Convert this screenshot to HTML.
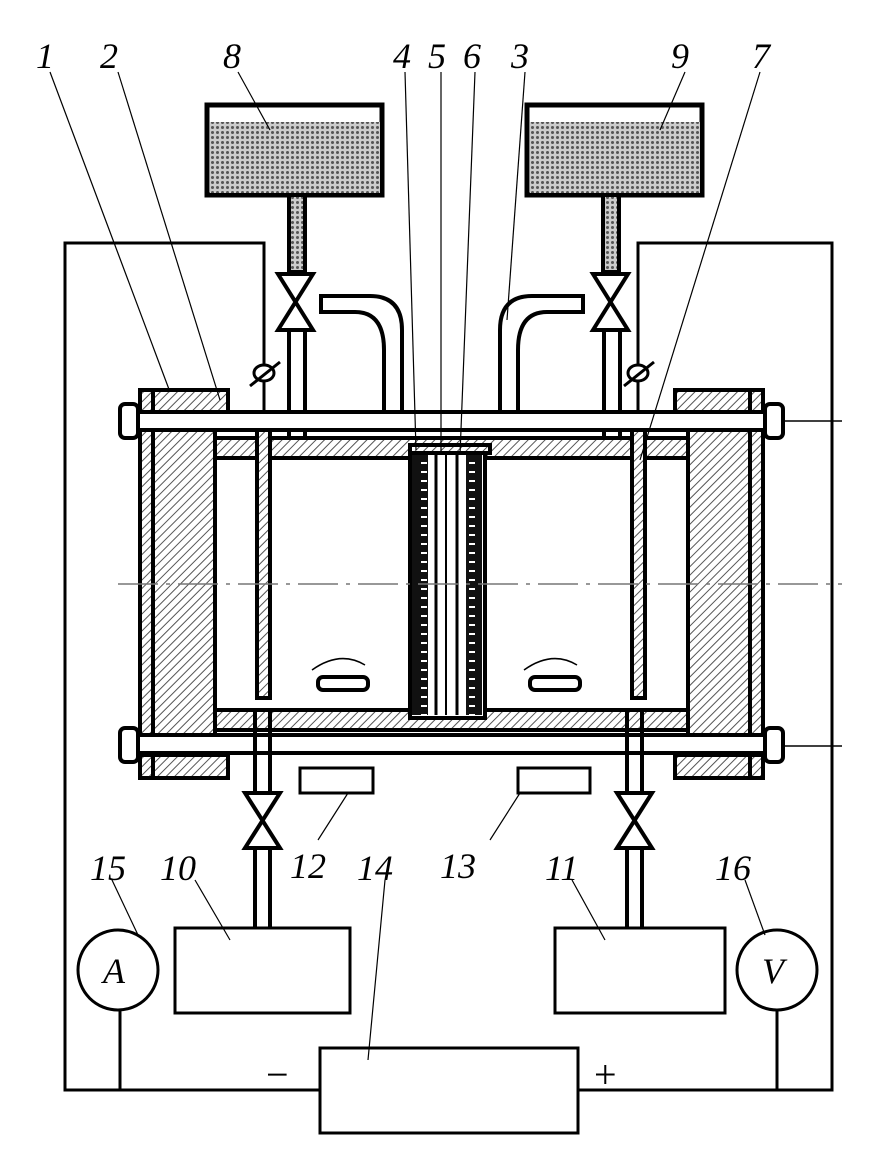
<!DOCTYPE html>
<html><head><style>body{margin:0;background:#fff}svg{display:block}text{font-family:"Liberation Serif",serif;font-style:italic;font-size:36px;fill:#000}</style></head>
<body>
<svg width="883" height="1149" viewBox="0 0 883 1149" xmlns="http://www.w3.org/2000/svg">
<defs>
<pattern id="h" width="6" height="6" patternUnits="userSpaceOnUse" patternTransform="rotate(45)"><rect width="6" height="6" fill="#fff"/><line x1="0" y1="0" x2="0" y2="6" stroke="#555" stroke-width="2"/></pattern>
<pattern id="d" width="5" height="5" patternUnits="userSpaceOnUse"><rect width="5" height="5" fill="#ccc"/><circle cx="2.5" cy="2.5" r="1.5" fill="#555"/></pattern>
<pattern id="m" width="16" height="9" patternUnits="userSpaceOnUse"><rect width="16" height="9" fill="#111"/><rect x="5" y="3" width="6" height="2" fill="#fff"/></pattern>
</defs>
<g fill="none" stroke="#000" stroke-width="4">
<polyline points="264,412 264,243 65,243 65,1090 320,1090" stroke-width="3"/>
<polyline points="638,412 638,243 832,243 832,1090 578,1090" stroke-width="3"/>
<line x1="120" y1="1010" x2="120" y2="1090" stroke-width="3"/>
<line x1="777" y1="1010" x2="777" y2="1090" stroke-width="3"/>
<circle cx="118" cy="970" r="40" fill="#fff" stroke-width="3"/>
<circle cx="777" cy="970" r="40" fill="#fff" stroke-width="3"/>
<rect x="320" y="1048" width="258" height="85" fill="#fff" stroke-width="3"/>
<rect x="207" y="105" width="175" height="90" fill="#fff" stroke-width="5"/>
<rect x="210" y="122" width="170" height="71" fill="url(#d)" stroke="none"/>
<rect x="527" y="105" width="175" height="90" fill="#fff" stroke-width="5"/>
<rect x="530" y="122" width="170" height="71" fill="url(#d)" stroke="none"/>
<rect x="289" y="195" width="16" height="77" fill="url(#d)"/>
<rect x="603" y="195" width="16" height="77" fill="url(#d)"/>
<path d="M278,274 L313,274 L278,330 L313,330 Z" fill="#fff"/>
<path d="M593,274 L628,274 L593,330 L628,330 Z" fill="#fff"/>
<line x1="289" y1="332" x2="289" y2="440"/><line x1="305" y1="332" x2="305" y2="440"/>
<line x1="604" y1="332" x2="604" y2="440"/><line x1="620" y1="332" x2="620" y2="440"/>
<path d="M384,412 V350 Q384,312 355,312 H321 V296 H370 Q402,296 402,330 V412"/>
<path d="M518,412 V350 Q518,312 547,312 H583 V296 H532 Q500,296 500,330 V412"/>
<ellipse cx="264" cy="373" rx="10" ry="8" fill="#fff" stroke-width="3"/><line x1="250" y1="386" x2="280" y2="362" stroke-width="3"/>
<ellipse cx="638" cy="373" rx="10" ry="8" fill="#fff" stroke-width="3"/><line x1="624" y1="386" x2="654" y2="362" stroke-width="3"/>
<rect x="140" y="390" width="88" height="22" fill="url(#h)"/>
<rect x="140" y="412" width="75" height="343" fill="url(#h)"/>
<rect x="140" y="755" width="88" height="23" fill="url(#h)"/>
<line x1="153" y1="390" x2="153" y2="778"/>
<rect x="675" y="390" width="88" height="22" fill="url(#h)"/>
<rect x="688" y="412" width="75" height="343" fill="url(#h)"/>
<rect x="675" y="755" width="88" height="23" fill="url(#h)"/>
<line x1="750" y1="390" x2="750" y2="778"/>
<rect x="130" y="412" width="645" height="18" fill="#fff"/>
<rect x="130" y="735" width="645" height="18" fill="#fff"/>
<line x1="775" y1="421" x2="842" y2="421" stroke-width="1.5"/>
<line x1="775" y1="746" x2="842" y2="746" stroke-width="1.5"/>
<rect x="120" y="404" width="18" height="34" rx="5" fill="#fff"/>
<rect x="120" y="728" width="18" height="34" rx="5" fill="#fff"/>
<rect x="765" y="404" width="18" height="34" rx="5" fill="#fff"/>
<rect x="765" y="728" width="18" height="34" rx="5" fill="#fff"/>
<rect x="215" y="438" width="473" height="20" fill="url(#h)"/>
<rect x="215" y="710" width="473" height="20" fill="url(#h)"/>
<rect x="215" y="458" width="473" height="252" fill="#fff"/>
<rect x="410" y="452" width="75" height="266" fill="#fff" stroke-width="4"/>
<rect x="412" y="455" width="16" height="260" fill="url(#m)" stroke="none"/>
<rect x="466" y="455" width="16" height="260" fill="url(#m)" stroke="none"/>
<line x1="436" y1="455" x2="436" y2="715" stroke-width="3"/><line x1="446" y1="455" x2="446" y2="715" stroke-width="2"/><line x1="457" y1="455" x2="457" y2="715" stroke-width="3"/>
<rect x="410" y="445" width="80" height="8" fill="url(#h)"/>
<rect x="257" y="430" width="13" height="268" fill="url(#h)"/>
<rect x="632" y="430" width="13" height="268" fill="url(#h)"/>
<rect x="318" y="677" width="50" height="13" rx="5" fill="#fff"/>
<rect x="530" y="677" width="50" height="13" rx="5" fill="#fff"/>
<path d="M312,670 Q340,650 365,665" stroke-width="1.5"/><path d="M524,670 Q552,650 577,665" stroke-width="1.5"/>
<line x1="255" y1="710" x2="255" y2="793"/><line x1="270" y1="710" x2="270" y2="793"/>
<line x1="255" y1="848" x2="255" y2="928"/><line x1="270" y1="848" x2="270" y2="928"/>
<line x1="627" y1="710" x2="627" y2="793"/><line x1="642" y1="710" x2="642" y2="793"/>
<line x1="627" y1="848" x2="627" y2="928"/><line x1="642" y1="848" x2="642" y2="928"/>
<path d="M245,793 L280,793 L245,848 L280,848 Z" fill="#fff"/>
<path d="M617,793 L652,793 L617,848 L652,848 Z" fill="#fff"/>
<rect x="300" y="768" width="73" height="25" fill="#fff" stroke-width="3"/>
<rect x="518" y="768" width="72" height="25" fill="#fff" stroke-width="3"/>
<rect x="175" y="928" width="175" height="85" fill="#fff" stroke-width="3"/>
<rect x="555" y="928" width="170" height="85" fill="#fff" stroke-width="3"/>
</g>
<g fill="#fff" stroke="none">
<rect x="292" y="432" width="10" height="4"/><rect x="607" y="432" width="10" height="4"/>
</g>
<g stroke="#777" stroke-width="1.5" stroke-dasharray="40,8,4,8" fill="none">
<line x1="118" y1="584" x2="842" y2="584"/>
</g>
<g stroke="#000" stroke-width="1.2" fill="none">
<line x1="50" y1="72" x2="170" y2="392"/><line x1="118" y1="72" x2="220" y2="400"/>
<line x1="238" y1="72" x2="270" y2="130"/><line x1="405" y1="72" x2="416" y2="450"/>
<line x1="441" y1="72" x2="441" y2="455"/><line x1="475" y1="72" x2="460" y2="455"/>
<line x1="525" y1="72" x2="507" y2="320"/><line x1="685" y1="72" x2="660" y2="130"/>
<line x1="760" y1="72" x2="640" y2="460"/>
<line x1="112" y1="880" x2="138" y2="935"/><line x1="195" y1="880" x2="230" y2="940"/>
<line x1="318" y1="840" x2="348" y2="793"/><line x1="385" y1="880" x2="368" y2="1060"/>
<line x1="490" y1="840" x2="520" y2="793"/><line x1="572" y1="880" x2="605" y2="940"/>
<line x1="745" y1="880" x2="765" y2="935"/>
</g>
<text x="36" y="68">1</text><text x="100" y="68">2</text><text x="223" y="68">8</text>
<text x="393" y="68">4</text><text x="428" y="68">5</text><text x="463" y="68">6</text>
<text x="511" y="68">3</text><text x="671" y="68">9</text><text x="752" y="68">7</text>
<text x="90" y="880">15</text><text x="160" y="880">10</text><text x="290" y="878">12</text>
<text x="357" y="880">14</text><text x="440" y="878">13</text><text x="545" y="880">11</text>
<text x="715" y="880">16</text>
<text x="103" y="983">A</text><text x="762" y="983">V</text>
<text x="266" y="1088" style="font-style:normal;font-size:40px">−</text>
<text x="594" y="1088" style="font-style:normal;font-size:40px">+</text>
</svg>
</body></html>
